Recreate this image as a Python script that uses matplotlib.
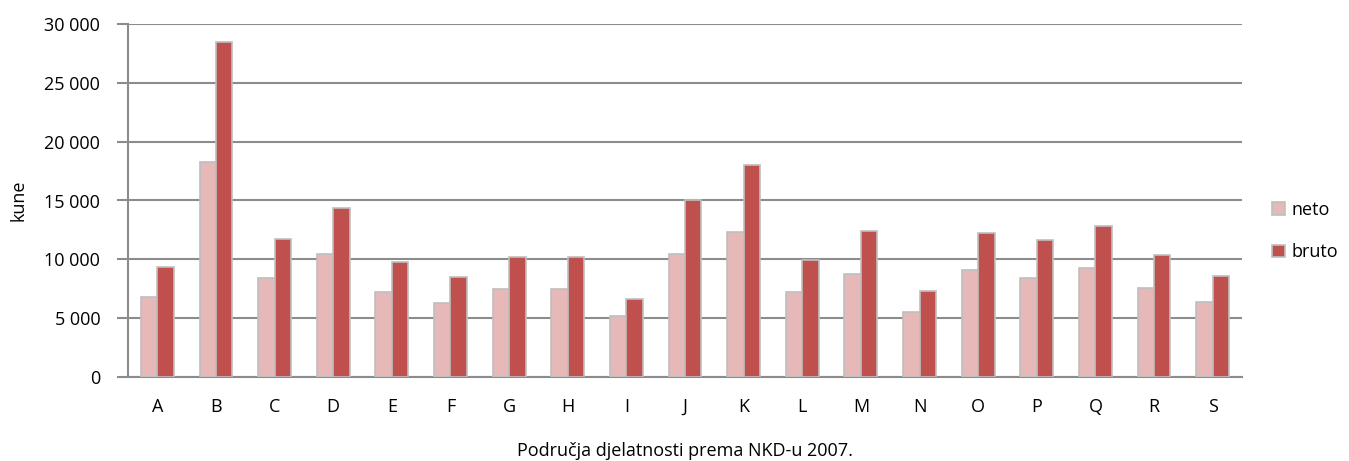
import numpy as np
import matplotlib.pyplot as plt
from matplotlib.ticker import FuncFormatter

plt.rcParams.update({"font.family": ["Open Sans", "DejaVu Sans"],
                     "font.size": 13})

categories = ["A", "B", "C", "D", "E", "F", "G", "H", "I", "J",
              "K", "L", "M", "N", "O", "P", "Q", "R", "S"]
neto = [6830, 18300, 8410, 10480, 7200, 6290, 7450, 7510, 5160, 10480,
        12350, 7220, 8780, 5550, 9070, 8410, 9290, 7540, 6400]
bruto = [9350, 28440, 11700, 14390, 9750, 8470, 10200, 10230, 6660, 15040,
         18020, 9970, 12410, 7310, 12270, 11610, 12860, 10370, 8610]

grid_col = "#8c8c8c"


def main():
    fig = plt.figure(figsize=(13.49, 4.61), dpi=100)
    ax = fig.add_axes([128 / 1349, 1 - 377 / 461, (1242 - 128) / 1349, (377 - 24) / 461])

    x = np.arange(len(categories))
    w = 0.28
    ax.bar(x - w / 2, neto, w, color="#e6b9b8", edgecolor="#bfbfbf",
           linewidth=1.2, label="neto", zorder=3)
    ax.bar(x + w / 2, bruto, w, color="#c0504d", edgecolor="#bfbfbf",
           linewidth=1.2, label="bruto", zorder=3)

    ax.set_xlim(-0.5, len(categories) - 0.5)
    ax.set_ylim(0, 30000)
    ax.set_yticks(range(0, 30001, 5000))
    ax.yaxis.set_major_formatter(FuncFormatter(
        lambda v, p: "{:,}".format(int(v)).replace(",", " ")))
    ax.set_xticks(x)
    ax.set_xticklabels(categories)
    ax.tick_params(axis="x", length=0, pad=15, labelsize=13)
    ax.tick_params(axis="y", length=8, color=grid_col, width=1.5, pad=12, labelsize=13)

    ax.yaxis.grid(True, color=grid_col, linewidth=1.5, zorder=0)
    ax.set_axisbelow(True)
    for s in ["top", "right"]:
        ax.spines[s].set_visible(False)
    for s in ["left", "bottom"]:
        ax.spines[s].set_color(grid_col)
        ax.spines[s].set_linewidth(1.5)

    ax.set_ylabel("kune", fontsize=13, labelpad=12)
    ax.set_xlabel("Područja djelatnosti prema NKD-u 2007.", fontsize=13, labelpad=19)

    fig.legend(loc="center left", bbox_to_anchor=(1272 / 1349, 1 - 231 / 461),
               frameon=False, fontsize=13, handlelength=0.7, handleheight=0.7,
               handletextpad=0.4, labelspacing=1.35, borderpad=0,
               borderaxespad=0)

    plt.savefig("out.png", dpi=100)


if __name__ == "__main__":
    main()
